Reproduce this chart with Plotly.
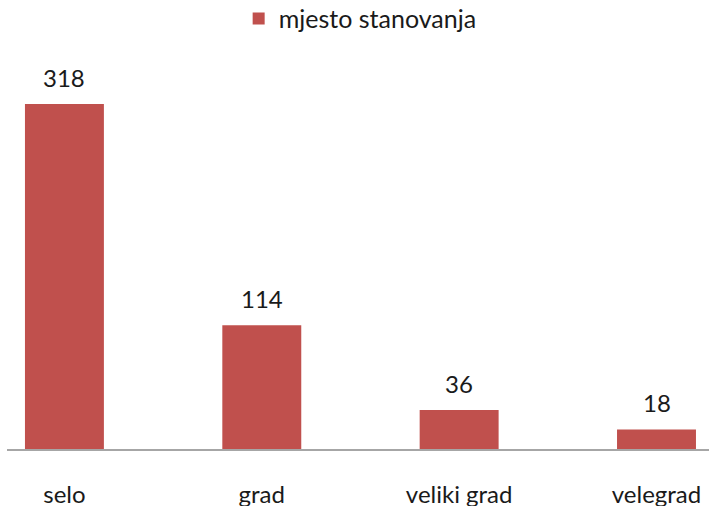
import plotly.graph_objects as go

categories = ["selo", "grad", "veliki grad", "velegrad"]
values = [318, 114, 36, 18]
series_name = "mjesto stanovanja"

bar_color = "#C0504D"
font_family = "Lato, 'Open Sans', sans-serif"

fig = go.Figure()
fig.add_trace(go.Bar(
    x=categories, y=values, name=series_name,
    marker=dict(color=bar_color, line=dict(width=0)),
    width=0.4, showlegend=True,
))

for c, v in zip(categories, values):
    fig.add_annotation(x=c, y=v, text=str(v), showarrow=False,
                       yanchor="bottom", yshift=10,
                       font=dict(family=font_family, size=24, color="#1a1a1a"))

fig.update_layout(
    width=709, height=506,
    margin=dict(l=7, r=0, t=60, b=57, pad=0, autoexpand=False),
    paper_bgcolor="white", plot_bgcolor="white",
    font=dict(family=font_family, size=24, color="#1a1a1a"),
    showlegend=True,
    legend=dict(x=0.33, y=1.106, xanchor="left", yanchor="middle",
                orientation="h", font=dict(size=25, family=font_family),
                bgcolor="rgba(0,0,0,0)"),
    xaxis=dict(type="category", range=[-0.291, 3.266], showline=True,
               linecolor="#A6A6A6", linewidth=1.5, ticks="",
               showgrid=False, zeroline=False, ticklabelstandoff=23,
               automargin=False,
               tickfont=dict(size=24, family=font_family)),
    yaxis=dict(range=[0, 358.5], visible=False, showgrid=False, zeroline=False,
               automargin=False),
)

fig.write_html("out.html", config={"displayModeBar": False},
               post_script="document.body.style.margin='0';document.body.style.overflow='hidden';")
